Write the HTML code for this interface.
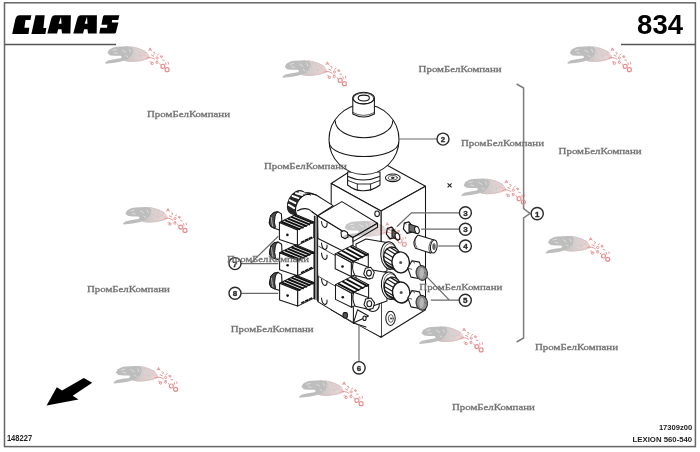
<!DOCTYPE html>
<html><head><meta charset="utf-8">
<style>
html,body{margin:0;padding:0;background:#fff;}
body{width:700px;height:452px;overflow:hidden;}
svg{display:block;filter:blur(0.6px);}
.wm{font-family:"Liberation Serif",serif;font-size:9.2px;fill:#707070;stroke:#707070;stroke-width:0.3px;font-weight:normal;}
.sm{font-family:"Liberation Sans",sans-serif;fill:#222;}
.co{fill:#fff;stroke:#2a2a2a;stroke-width:1.4;}
.cn{font-family:"Liberation Sans",sans-serif;font-size:8px;font-weight:bold;fill:#2a2a2a;stroke:#2a2a2a;stroke-width:0.35px;text-anchor:middle;}
.ld{fill:none;stroke:#6a6a6a;stroke-width:1.2;}
</style></head>
<body>
<svg width="700" height="452" viewBox="0 0 700 452">
<defs>
<linearGradient id="lg" x1="0" y1="0" x2="1" y2="0"><stop offset="0" stop-color="#bcbcbc"/><stop offset="0.45" stop-color="#d4cccc"/><stop offset="1" stop-color="#f0d0d0"/></linearGradient>
<symbol id="leo" overflow="visible">
<path d="M21,-17 C28,-17 34,-15.5 40,-12.5 C43,-10.5 45,-8 45,-5 C40,-3 34,-1.8 28,-1.5 C24,-1.4 21,-2 19,-2.8 Z" fill="url(#lg)" opacity="0.9"/>
<path d="M4,-13.7 C7,-15.5 9.5,-16.4 12,-16.6 L22.3,-17.1 L26.9,-16 L28.5,-12.5 L26.5,-8 L23,-4.5 L20,-2.9 L15,-1.6 L9.7,-0.6 L0.5,0.4 L0,-0.8 L2.9,-2.9 L9,-4.2 L15.4,-5.1 L16.8,-6.4 L15.4,-7.6 L10,-7.6 L5.1,-8 L2.3,-10.3 Z" fill="#bdbdbd"/>
<path d="M7.5,-13 L11.5,-14 M17,-13.5 L21,-11 M9,-10.8 L12.5,-10 M20.5,-8 L23,-6.5 M24,-14.5 L25.5,-11" stroke="#dedede" stroke-width="1" fill="none"/>
<g fill="none" stroke-width="0.9">
<path d="M25,-16.8 C31,-16.2 37,-14 42,-10.5" stroke="#d2c2c2"/>
<path d="M20,-2.5 C27,-1.6 34,-2.2 41,-4.5" stroke="#d8c0c0"/>
<path d="M27,-13 C29,-9 32,-7 36,-7.5 C39,-8 41,-10 40,-12.5" stroke="#d6c8c8"/>
<path d="M30,-15 C34,-13 36,-10 35,-5 M24,-6 C28,-5 31,-4 34,-2.5 M36,-12 C38,-9 41,-7 44,-7" stroke="#dcc6c6"/>
</g>
<g fill="none" stroke="#e58e8e" stroke-width="0.9">
<path d="M43.5,-12.5 L45,-15.5 L46.5,-12.5 M44,-13.5 L46,-13.5 M48,-11 C50,-12 50.5,-9.5 48.5,-9 M41,-5 C44,-6.5 47,-6 50,-4 M46,-8.5 L49,-7 M52,-8 L54,-9.5 M55,-7.5 L57,-6 M57,-3.5 L59.5,-3 M50.5,-2 L53,-2.5 M44.5,-1.5 C46,-2.5 47.5,-1 46,0.5 M60.5,-1 L61,1.5 M63,-1.5 L63.5,1 M54.5,0 L55.5,1.5"/>
<circle cx="52" cy="-5.5" r="1.1"/>
<circle cx="56.5" cy="-6.8" r="0.9"/>
<circle cx="47" cy="0" r="1.2"/>
<circle cx="52" cy="-0.8" r="1"/>
<circle cx="57.8" cy="3" r="2" stroke-width="1.2"/>
<circle cx="62" cy="6.3" r="2" stroke-width="1.2"/>
</g>
</symbol>
</defs>
<!-- frame -->
<rect x="4.5" y="2.8" width="690.9" height="443.8" fill="none" stroke="#666" stroke-width="1.5"/>
<line x1="4.6" y1="44.6" x2="116" y2="44.6" stroke="#555" stroke-width="1.5"/>
<line x1="621" y1="44.5" x2="695.4" y2="44.5" stroke="#555" stroke-width="1.5"/>
<!-- CLAAS logo -->
<g fill="#000">
<path d="M12.2,33.9 L15.3,19.5 Q16.3,15.2 19.5,15.2 L31.4,15.2 L30.4,20.1 L25.5,20.1 L24.4,27.7 L29.3,27.7 L28.5,33.9 Z"/>
<path d="M31.4,33.9 L35.5,15.2 L44.7,15.2 L43.4,28 L46.3,28 L45.4,33.9 Z"/>
<path d="M47.3,33.6 L51,19.5 Q52,15.3 55,15.3 L70.9,15.3 L70.4,33.6 L62,33.6 L61.5,29.3 L58.2,29.3 L57,33.6 Z M61,16.8 L61.5,23.7 L58.7,23.7 Z" fill-rule="evenodd"/>
<path d="M73.3,33.6 L77,19.5 Q78,15.3 81,15.3 L96.9,15.3 L96.7,33.6 L88,33.6 L87.5,29.3 L84.2,29.3 L83,33.6 Z M87,16.8 L87.5,23.7 L84.7,23.7 Z" fill-rule="evenodd"/>
<path d="M104.2,15.3 L119.4,15.3 L118.2,19.9 L112.1,19.9 L111.8,22.4 L118.4,22.4 L115.9,32.4 Q115.6,33.4 114.6,33.4 L99.3,33.4 L100.3,27.8 L107,27.8 L107.4,24.7 L101.4,24.7 L102.9,17 Q103.3,15.3 104.2,15.3 Z"/>
</g>
<!-- 834 -->
<text x="683" y="34" text-anchor="end" style="font-family:'Liberation Sans',sans-serif;font-weight:bold;font-size:27.5px;fill:#000">834</text>
<!-- bottom texts -->
<text x="6.9" y="440.6" class="sm" style="font-size:8.3px;font-weight:bold" textLength="25.2" lengthAdjust="spacingAndGlyphs">148227</text>
<text x="658.9" y="429.9" class="sm" style="font-size:7.3px;font-weight:bold" textLength="33.3" lengthAdjust="spacingAndGlyphs">17309z00</text>
<text x="632.6" y="441.9" class="sm" style="font-size:8.1px;font-weight:bold" textLength="59.6" lengthAdjust="spacingAndGlyphs">LEXION 560-540</text>
<!-- arrow -->
<path d="M46.6,405.4 L56.8,387.3 L62.1,390.4 L83.8,378 L92.2,382.8 L72.7,395.7 L78.5,399.6 Z" fill="#000"/>
<!-- bracket -->
<path d="M516.6,84 L523.6,88 L523.6,208.6 L530,213.5 L523.6,218 L523.6,338 L516.6,342" fill="none" stroke="#7c7c7c" stroke-width="1.5"/>
<circle cx="537.2" cy="213.6" r="6.1" class="co"/>
<text x="537.2" y="216.5" class="cn">1</text>

<!-- DRAWING -->
<g id="drw" stroke="#161616" stroke-width="1.05" stroke-linejoin="round" stroke-linecap="round" fill="#fff">
<!-- main block -->
<path d="M331.2,183.5 L372,157 L425.5,186.2 L381,211 Z"/>
<path d="M381,211 L425.5,186.2 L425.5,309.7 L381,337.2 Z"/>
<path d="M331.2,183.5 L381,211 L381,337.2 L331.2,309.7 Z"/>
<ellipse cx="392.8" cy="177.8" rx="7.4" ry="3.8"/>
<ellipse cx="392.8" cy="177.8" rx="4.5" ry="2.2" fill="none" stroke-width="0.7"/>
<ellipse cx="392.8" cy="177.9" rx="1.8" ry="1.1" fill="#333" stroke="none"/>
<ellipse cx="377.1" cy="213.8" rx="2.3" ry="2.8"/>
<ellipse cx="390.5" cy="318.3" rx="4.7" ry="7.1"/>
<ellipse cx="390.8" cy="318.5" rx="2.4" ry="3.8" fill="none" stroke-width="0.7"/>
<circle cx="391" cy="318.6" r="1" fill="#333" stroke="none"/>
<!-- nut under sphere -->
<path d="M347.6,172 L347.6,185 Q355,191 363,190.8 Q372,191 380,185 L380,172 Z"/>
<path d="M348,176.5 Q363,183.5 379.6,176.5" fill="none"/>
<path d="M348,180.5 L357.3,184 L370.6,184 L379.8,180.5 M357.3,184 L357.3,190.3 M370.6,184 L370.6,190.3" fill="none" stroke-width="0.9"/>
<!-- sphere -->
<circle cx="364" cy="139.5" r="35"/>
<path d="M335.2,120.8 A28.6,16.8 0 0 0 392.8,120.8" fill="none"/>
<path d="M329.3,142.5 A34.7,14 0 0 0 398.7,142.5" fill="none"/>
<!-- cap -->
<path d="M352.8,98 L352.8,114 Q363.6,120 374.4,114 L374.4,98 Z"/>
<path d="M352.8,112.5 Q363.6,118.5 374.4,112.5" fill="none" stroke-width="0.7"/>
<ellipse cx="363.6" cy="98.1" rx="10.8" ry="5.8"/>
<ellipse cx="363.6" cy="98.6" rx="10.2" ry="5.5" fill="none" stroke-width="0.6"/>
<ellipse cx="363.8" cy="98" rx="5.6" ry="2.9"/>
<!--STACK-->
<path d="M297.0,209.0 L317.6,215.8 L341.9,201.6 L377.5,223.3 L379.0,240.0 L381.0,250.0 L381.0,336.0 L356.0,323.5 L318.0,302.0 L297.0,300.0 Z" fill="#fff" stroke="none"/>
<path d="M318.2,276.0 L318.2,301.9 L353.4,323.1 L366.0,327.0" fill="none" />
<path d="M321.5,279 Q322,285 325,285.5 Q327.5,285 327,281" fill="none"/>
<path d="M321.5,298 Q322,304 325,304.5 Q327.5,304 327,300" fill="none"/>
<path d="M314.4,216.0 L317.6,216.0 L317.6,301.0 L314.4,299.0 Z" fill="#8a8a8a" stroke="none"/>
<path d="M314.4,216.0 L314.4,299.0" fill="none" />
<path d="M317.6,216.0 L317.6,301.0" fill="none" />
<path d="M318.6,246.2 L336.0,256.0" fill="none" stroke-width="0.8"/>
<path d="M318.6,276.5 L336.0,286.5" fill="none" stroke-width="0.8"/>
<path d="M353.4,307.4 L353.4,323.1" fill="none" />
<path d="M353.4,323.1 L357.5,309.8 L368.5,316.0 Z" />
<ellipse cx="364.5" cy="318.2" rx="1.6" ry="2.3" fill="#fff"/>
<rect x="343" y="312.6" width="4.4" height="5.4" rx="1.6" fill="#555"/>
<circle cx="372.8" cy="305" r="6.5"/>
<path d="M321.5,243 Q322,249 325,249.5 Q327.5,249 327,245" fill="none"/>
<path d="M321.5,253 Q322,259 325,259.5 Q327.5,259 327,255" fill="none"/>
<path d="M317.6,215.8 L353.0,237.5 L353.0,256.0 L318.0,238.5 Z" />
<path d="M317.6,215.8 L341.9,201.6 L377.5,223.3 L353.0,237.5 Z" />
<path d="M353.0,237.5 L377.5,223.3 L377.5,227.3 L353.0,241.6 Z" />
<path d="M321.5,221.5 Q322,227 325,227.5 Q327.5,227 327,223" fill="none"/>
<path d="M341,232 L344,230.5 L347.5,232.5 L348,237 L345,238.8 L341.5,236.8 Z"/>
<path d="M356.0,244.0 L366.0,239.0 L387.0,242.5 L387.0,271.0 L370.0,277.0 L356.0,270.0 Z" />
<path d="M356.0,274.0 L366.0,269.0 L387.0,272.5 L387.0,301.0 L370.0,307.0 L356.0,300.0 Z" />
<path d="M300,197 Q303,192.5 309,193 L316.2,195 L333.1,205.6 L317.6,215.8 L309.2,209.6 Q303.5,207.2 296.5,212.5 Z"/>
<ellipse cx="297" cy="202.5" rx="8.6" ry="12.6" fill="#262626" stroke="#1e1e1e" transform="rotate(28 297 202.5)"/><path d="M292.6,196.0 L298.6,198.1" stroke="#fff" stroke-width="2" fill="none"/><path d="M296.0,193.3 L302.4,195.0" stroke="#fff" stroke-width="2" fill="none"/><path d="M299.5,192.3 L306.4,194.0" stroke="#fff" stroke-width="2" fill="none"/><path d="M289.8,200.4 L295.5,203.1" stroke="#fff" stroke-width="2" fill="none"/><path d="M288.8,204.8 L294.2,208.1" stroke="#fff" stroke-width="2" fill="none"/><ellipse cx="305.2" cy="206.2" rx="8.6" ry="12.6" fill="#fff" stroke="none" transform="rotate(28 305.2 206.2)"/><path d="M296.6,214.6 L296.1,213.3 L295.8,211.9 L295.6,210.5 L295.6,208.9 L295.8,207.2 L296.2,205.6 L296.8,204.0 L297.5,202.4 L298.4,200.8 L299.4,199.4 L300.5,198.1 L301.7,197.0 L303.0,196.1 L304.3,195.3 L305.7,194.8 L307.0,194.5 L308.3,194.4 L309.6,194.5 L310.7,194.9" fill="none" /><path d="M297.5,210.8 Q303.5,207.2 309.2,209.6 L317.6,215.8 M305,192.9 Q310.5,192.6 316.2,195" fill="none"/>
<path d="M269.3,222.7 L270.6,215.8 L273.9,212.5 L277.9,211.7 L281.4,213.9 L281.9,222.9 L279.6,229.9 L274.9,228.4 L270.9,226.4 Z" stroke-width="1.1"/>
<path d="M269.3,222.7 L270.6,215.8 L273.9,212.5 L277.9,211.7 L275.8,214.1 L275.0,216.7 L274.4,222.2 L275.4,227.0 L274.9,228.4 L270.9,226.4 Z" fill="#4a4a4a" stroke-width="1"/>
<path d="M271.2,217.4 L272.2,223.9 L272.8,226.3" fill="none" stroke="#bbb" stroke-width="0.9"/>
<path d="M297.4,229.9 L313.8,221.9 L313.8,237.4 L297.4,245.4 Z" />
<path d="M301.5,242.2 L311.3,237.4" fill="none" stroke="#111" stroke-width="1.6" stroke-dasharray="2.5 1.8"/>
<path d="M279.4,222.5 L297.4,229.9 L313.8,221.9 L295.8,214.5 Z" />
<path d="M282.0,222.0 L299.5,229.2" fill="none" stroke="#111" stroke-width="1.9"/>
<path d="M285.3,220.4 L302.8,227.6" fill="none" stroke="#111" stroke-width="1.9"/>
<path d="M288.6,218.8 L306.1,226.0" fill="none" stroke="#111" stroke-width="1.9"/>
<path d="M291.8,217.2 L309.3,224.4" fill="none" stroke="#111" stroke-width="1.9"/>
<path d="M295.1,215.6 L312.6,222.8" fill="none" stroke="#111" stroke-width="1.9"/>
<path d="M279.4,222.5 L297.4,229.9 L297.4,245.4 L279.4,239.4 Z" />
<circle cx="287.4" cy="234.9" r="1.3" fill="#111" stroke="none"/>
<path d="M269.5,253.0 L270.8,246.1 L274.1,242.8 L278.1,242.0 L281.6,244.2 L282.1,253.2 L279.8,260.2 L275.1,258.7 L271.1,256.7 Z" stroke-width="1.1"/>
<path d="M269.5,253.0 L270.8,246.1 L274.1,242.8 L278.1,242.0 L276.0,244.4 L275.2,247.0 L274.6,252.5 L275.6,257.3 L275.1,258.7 L271.1,256.7 Z" fill="#4a4a4a" stroke-width="1"/>
<path d="M271.4,247.7 L272.4,254.2 L273.0,256.6" fill="none" stroke="#bbb" stroke-width="0.9"/>
<path d="M297.6,260.2 L314.0,252.2 L314.0,267.7 L297.6,275.7 Z" />
<path d="M301.7,272.5 L311.5,267.7" fill="none" stroke="#111" stroke-width="1.6" stroke-dasharray="2.5 1.8"/>
<path d="M279.6,252.8 L297.6,260.2 L314.0,252.2 L296.0,244.8 Z" />
<path d="M282.2,252.3 L299.7,259.5" fill="none" stroke="#111" stroke-width="1.9"/>
<path d="M285.5,250.7 L303.0,257.9" fill="none" stroke="#111" stroke-width="1.9"/>
<path d="M288.8,249.1 L306.3,256.3" fill="none" stroke="#111" stroke-width="1.9"/>
<path d="M292.0,247.5 L309.5,254.7" fill="none" stroke="#111" stroke-width="1.9"/>
<path d="M295.3,245.9 L312.8,253.1" fill="none" stroke="#111" stroke-width="1.9"/>
<path d="M279.6,252.8 L297.6,260.2 L297.6,275.7 L279.6,269.7 Z" />
<circle cx="287.6" cy="265.2" r="1.3" fill="#111" stroke="none"/>
<path d="M269.5,283.4 L270.8,276.5 L274.1,273.2 L278.1,272.4 L281.6,274.6 L282.1,283.6 L279.8,290.6 L275.1,289.1 L271.1,287.1 Z" stroke-width="1.1"/>
<path d="M269.5,283.4 L270.8,276.5 L274.1,273.2 L278.1,272.4 L276.0,274.8 L275.2,277.4 L274.6,282.9 L275.6,287.7 L275.1,289.1 L271.1,287.1 Z" fill="#4a4a4a" stroke-width="1"/>
<path d="M271.4,278.1 L272.4,284.6 L273.0,287.0" fill="none" stroke="#bbb" stroke-width="0.9"/>
<path d="M297.6,290.6 L314.0,282.6 L314.0,298.1 L297.6,306.1 Z" />
<path d="M301.7,302.9 L311.5,298.1" fill="none" stroke="#111" stroke-width="1.6" stroke-dasharray="2.5 1.8"/>
<path d="M279.6,283.2 L297.6,290.6 L314.0,282.6 L296.0,275.2 Z" />
<path d="M282.2,282.7 L299.7,289.9" fill="none" stroke="#111" stroke-width="1.9"/>
<path d="M285.5,281.1 L303.0,288.3" fill="none" stroke="#111" stroke-width="1.9"/>
<path d="M288.8,279.5 L306.3,286.7" fill="none" stroke="#111" stroke-width="1.9"/>
<path d="M292.0,277.9 L309.5,285.1" fill="none" stroke="#111" stroke-width="1.9"/>
<path d="M295.3,276.3 L312.8,283.5" fill="none" stroke="#111" stroke-width="1.9"/>
<path d="M279.6,283.2 L297.6,290.6 L297.6,306.1 L279.6,300.1 Z" />
<circle cx="287.6" cy="295.6" r="1.3" fill="#111" stroke="none"/>
<path d="M351.3,262.5 L368.3,254.0 L368.3,268.0 L351.3,276.5 Z" />
<path d="M355.6,273.2 L365.8,268.1" fill="none" stroke="#111" stroke-width="1.6" stroke-dasharray="2.5 1.8"/>
<path d="M335.2,253.9 L351.3,262.5 L368.3,254.0 L352.2,245.4 Z" />
<path d="M338.3,253.1 L353.9,261.5" fill="none" stroke="#111" stroke-width="1.9"/>
<path d="M342.6,251.0 L358.2,259.4" fill="none" stroke="#111" stroke-width="1.9"/>
<path d="M346.8,248.9 L362.4,257.3" fill="none" stroke="#111" stroke-width="1.9"/>
<path d="M351.1,246.8 L366.7,255.2" fill="none" stroke="#111" stroke-width="1.9"/>
<path d="M335.2,253.9 L351.3,262.5 L351.3,276.5 L335.2,268.7 Z" />
<circle cx="342.5" cy="266.5" r="1.3" fill="#111" stroke="none"/>
<path d="M353.5,261.5 L368.0,266.9 L370.0,279.1 L355.0,275.5 Q351.0,268.5 353.5,261.5 Z"/>
<path d="M374.3,272.2 L372.6,277.9 L367.3,278.9 L363.7,274.0 L365.4,268.3 L370.7,267.3 Z" />
<ellipse cx="369.0" cy="273.1" rx="2.4" ry="3" />
<path d="M351.6,293.2 L368.6,284.7 L368.6,298.7 L351.6,307.2 Z" />
<path d="M355.9,303.9 L366.1,298.8" fill="none" stroke="#111" stroke-width="1.6" stroke-dasharray="2.5 1.8"/>
<path d="M335.5,284.6 L351.6,293.2 L368.6,284.7 L352.5,276.1 Z" />
<path d="M338.6,283.8 L354.2,292.2" fill="none" stroke="#111" stroke-width="1.9"/>
<path d="M342.9,281.7 L358.5,290.1" fill="none" stroke="#111" stroke-width="1.9"/>
<path d="M347.1,279.6 L362.7,288.0" fill="none" stroke="#111" stroke-width="1.9"/>
<path d="M351.4,277.5 L367.0,285.9" fill="none" stroke="#111" stroke-width="1.9"/>
<path d="M335.5,284.6 L351.6,293.2 L351.6,307.2 L335.5,299.4 Z" />
<circle cx="342.8" cy="297.2" r="1.3" fill="#111" stroke="none"/>
<path d="M353.8,292.2 L368.3,297.6 L370.3,309.8 L355.3,306.2 Q351.3,299.2 353.8,292.2 Z"/>
<path d="M374.6,302.9 L372.9,308.6 L367.6,309.6 L364.0,304.7 L365.7,299.0 L371.0,298.0 Z" />
<ellipse cx="369.3" cy="303.8" rx="2.4" ry="3" />
<ellipse cx="389.5" cy="255.6" rx="8.6" ry="13.8" transform="rotate(-6 389.5 255.6)"/>
<ellipse cx="390.7" cy="256.2" rx="7.6" ry="12.6" fill="none" stroke-width="0.6" transform="rotate(-6 389.5 255.6)"/>
<ellipse cx="392.1" cy="257.2" rx="8.4" ry="10.2" fill="#fff" stroke-width="1.3" transform="rotate(-6 392.1 257.2)"/>
<path d="M389.9,247.3 L398.5,252.5 L400.6,272.6 L392.0,267.4 Z" fill="#fff" stroke="none"/>
<path d="M389.9,247.3 L398.5,252.5" fill="none" stroke-width="1.3"/>
<path d="M392.0,267.4 L400.6,272.6" fill="none" stroke-width="1.3"/>
<path d="M389.1,266.6 L397.7,271.8" fill="none" stroke="#1a1a1a" stroke-width="1.2"/>
<path d="M386.2,264.1 L394.8,269.3" fill="none" stroke="#1a1a1a" stroke-width="1.2"/>
<path d="M384.3,260.5 L392.9,265.7" fill="none" stroke="#1a1a1a" stroke-width="1.2"/>
<path d="M383.7,256.3 L392.3,261.5" fill="none" stroke="#1a1a1a" stroke-width="1.2"/>
<path d="M384.6,252.3 L393.2,257.5" fill="none" stroke="#1a1a1a" stroke-width="1.2"/>
<path d="M386.8,249.1 L395.4,254.3" fill="none" stroke="#1a1a1a" stroke-width="1.2"/>
<ellipse cx="400.7" cy="262.4" rx="8.700000000000001" ry="10.5" fill="#fff" stroke-width="1.4" transform="rotate(-6 400.7 262.4)"/>
<circle cx="400.7" cy="262.4" r="1.5" fill="#555" stroke="none"/>
<ellipse cx="390.0" cy="285.7" rx="8.6" ry="13.8" transform="rotate(-6 390.0 285.7)"/>
<ellipse cx="391.2" cy="286.3" rx="7.6" ry="12.6" fill="none" stroke-width="0.6" transform="rotate(-6 390.0 285.7)"/>
<ellipse cx="392.6" cy="287.3" rx="8.4" ry="10.2" fill="#fff" stroke-width="1.3" transform="rotate(-6 392.6 287.3)"/>
<path d="M390.4,277.4 L399.0,282.6 L401.1,302.7 L392.5,297.5 Z" fill="#fff" stroke="none"/>
<path d="M390.4,277.4 L399.0,282.6" fill="none" stroke-width="1.3"/>
<path d="M392.5,297.5 L401.1,302.7" fill="none" stroke-width="1.3"/>
<path d="M389.6,296.7 L398.2,301.9" fill="none" stroke="#1a1a1a" stroke-width="1.2"/>
<path d="M386.7,294.2 L395.3,299.4" fill="none" stroke="#1a1a1a" stroke-width="1.2"/>
<path d="M384.8,290.6 L393.4,295.8" fill="none" stroke="#1a1a1a" stroke-width="1.2"/>
<path d="M384.2,286.4 L392.8,291.6" fill="none" stroke="#1a1a1a" stroke-width="1.2"/>
<path d="M385.1,282.4 L393.7,287.6" fill="none" stroke="#1a1a1a" stroke-width="1.2"/>
<path d="M387.3,279.2 L395.9,284.4" fill="none" stroke="#1a1a1a" stroke-width="1.2"/>
<ellipse cx="401.2" cy="292.5" rx="8.700000000000001" ry="10.5" fill="#fff" stroke-width="1.4" transform="rotate(-6 401.2 292.5)"/>
<circle cx="401.2" cy="292.5" r="1.5" fill="#555" stroke="none"/>
<path d="M395.6,231.8 L394.7,237.6 L390.1,238.8 L386.4,234.2 L387.3,228.4 L391.9,227.2 Z" fill="#fff" stroke-width="1.2"/>
<path d="M390.1,238.8 L391.4,237.6" fill="none" stroke-width="0.7"/>
<path d="M387.3,228.4 L389.1,229.3" fill="none" stroke-width="0.7"/>
<path d="M392.0,229.4 L397.5,232.9 L397.5,240.1 L392.0,236.6 Z" fill="#6a6a6a"/>
<ellipse cx="397.5" cy="236.5" rx="2.2" ry="3.6" fill="#fff" transform="rotate(-15 397.5 236.5)"/>
<path d="M412.6,226.4 L411.7,232.2 L407.1,233.4 L403.4,228.8 L404.3,223.0 L408.9,221.8 Z" fill="#fff" stroke-width="1.2"/>
<path d="M407.1,233.4 L408.4,232.2" fill="none" stroke-width="0.7"/>
<path d="M404.3,223.0 L406.1,223.9" fill="none" stroke-width="0.7"/>
<path d="M409.0,224.0 L417.0,226.4 L417.0,233.6 L409.0,231.2 Z" fill="#6a6a6a"/>
<ellipse cx="417" cy="230" rx="2.2" ry="3.6" fill="#fff" transform="rotate(-15 417 230)"/>
<path d="M417.8,235.1 L434.1,240.1 L431,253.2 L415.5,248.3 Q411.5,241.5 417.8,235.1 Z"/>
<path d="M416.5,236.5 Q413.2,242 416.8,247.5" fill="none" stroke-width="0.7"/>
<path d="M431.5,240.5 Q427.5,246 429.5,252.2" fill="none" stroke-width="0.7"/>
<ellipse cx="433.8" cy="246.5" rx="3.3" ry="6.6" transform="rotate(8 433.8 246.5)"/>
<ellipse cx="434" cy="246.6" rx="1.7" ry="3.4" fill="#666" stroke="none"/>
<path d="M422.6,271.1 L418.4,278.5 L411.0,277.1 L407.8,268.1 L412.0,260.7 L419.4,262.1 Z" stroke-width="1.1"/>
<path d="M418.4,278.5 L419.7,278.1" fill="none" stroke-width="0.7"/>
<path d="M407.8,268.1 L411.7,269.3" fill="none" stroke-width="0.7"/>
<path d="M412.0,260.7 L414.7,263.1" fill="none" stroke-width="0.7"/>
<ellipse cx="421.8" cy="273.0" rx="5.6" ry="7.4" fill="#b8b8b8" stroke-width="1.1" transform="rotate(-8 421.8 273.0)"/>
<ellipse cx="420.3" cy="272.6" rx="4.2" ry="6.6" fill="none" stroke="#666" stroke-width="0.5"/>
<ellipse cx="421.2" cy="273.0" rx="4.2" ry="6.6" fill="none" stroke="#666" stroke-width="0.5"/>
<ellipse cx="422.1" cy="273.4" rx="4.2" ry="6.6" fill="none" stroke="#666" stroke-width="0.5"/>
<ellipse cx="423.0" cy="273.8" rx="4.2" ry="6.6" fill="none" stroke="#666" stroke-width="0.5"/>
<path d="M422.6,300.9 L418.4,308.3 L411.0,306.9 L407.8,297.9 L412.0,290.5 L419.4,291.9 Z" stroke-width="1.1"/>
<path d="M418.4,308.3 L419.7,307.9" fill="none" stroke-width="0.7"/>
<path d="M407.8,297.9 L411.7,299.1" fill="none" stroke-width="0.7"/>
<path d="M412.0,290.5 L414.7,292.9" fill="none" stroke-width="0.7"/>
<ellipse cx="421.8" cy="302.8" rx="5.6" ry="7.4" fill="#b8b8b8" stroke-width="1.1" transform="rotate(-8 421.8 302.8)"/>
<ellipse cx="420.3" cy="302.4" rx="4.2" ry="6.6" fill="none" stroke="#666" stroke-width="0.5"/>
<ellipse cx="421.2" cy="302.8" rx="4.2" ry="6.6" fill="none" stroke="#666" stroke-width="0.5"/>
<ellipse cx="422.1" cy="303.2" rx="4.2" ry="6.6" fill="none" stroke="#666" stroke-width="0.5"/>
<ellipse cx="423.0" cy="303.6" rx="4.2" ry="6.6" fill="none" stroke="#666" stroke-width="0.5"/>
<!--/STACK-->
</g>
<!-- callouts -->
<g class="ld">
<path d="M398.4,139 L437,139"/>
<path d="M459.3,212.8 L411.4,212.8 L396.8,226.8"/>
<path d="M459.3,229.2 L421.2,229.2"/>
<path d="M459.3,246 L438.2,246"/>
<path d="M459.2,300.2 L449.4,300.2 L426.4,276.3 M449.4,300.2 L430.8,300.2"/>
<path d="M359,324.6 L359,361.5"/>
<path d="M241,263.6 L278.3,263.6 M250.9,263 L278.3,236.2"/>
<path d="M241.2,293.3 L278.3,293.3"/>
</g>
<g>
<circle cx="443" cy="139.1" r="6" class="co"/><text x="443" y="142" class="cn">2</text>
<circle cx="465.4" cy="212.8" r="6" class="co"/><text x="465.4" y="215.7" class="cn">3</text>
<circle cx="465.4" cy="229.2" r="6" class="co"/><text x="465.4" y="232.1" class="cn">3</text>
<circle cx="465.4" cy="246" r="6" class="co"/><text x="465.4" y="248.9" class="cn">4</text>
<circle cx="465.3" cy="300.2" r="6" class="co"/><text x="465.3" y="303.1" class="cn">5</text>
<circle cx="359" cy="367.8" r="6.2" class="co"/><text x="359" y="370.7" class="cn">6</text>
<circle cx="235" cy="263.6" r="6" class="co"/><text x="235" y="266.5" class="cn">7</text>
<circle cx="235" cy="293.3" r="6" class="co"/><text x="235" y="296.2" class="cn">8</text>
<path d="M447.6,183.3 L451.6,187.3 M451.6,183.3 L447.6,187.3" stroke="#222" stroke-width="1.1"/>
</g>
<!-- leopards -->
<use href="#leo" x="105.1" y="63.4"/>
<use href="#leo" x="567.4" y="63.4"/>
<use href="#leo" x="282.4" y="77.4"/>
<use href="#leo" x="123" y="224.1"/>
<use href="#leo" x="461.3" y="195.7"/>
<use href="#leo" x="545.7" y="253"/>
<use href="#leo" x="419.1" y="343.6"/>
<use href="#leo" x="113.6" y="383"/>
<use href="#leo" x="299.1" y="397.4"/>
<use href="#leo" x="342.3" y="238" style="mix-blend-mode:multiply" opacity="0.85"/>
<!-- watermark texts -->
<g class="wm">
<text x="147" y="117.4" textLength="83" lengthAdjust="spacingAndGlyphs">ПромБелКомпани</text>
<text x="418.6" y="72.1" textLength="83" lengthAdjust="spacingAndGlyphs">ПромБелКомпани</text>
<text x="263.9" y="168.6" textLength="83" lengthAdjust="spacingAndGlyphs">ПромБелКомпани</text>
<text x="461" y="146.1" textLength="83" lengthAdjust="spacingAndGlyphs">ПромБелКомпани</text>
<text x="558.6" y="154.1" textLength="83" lengthAdjust="spacingAndGlyphs">ПромБелКомпани</text>
<text x="86.9" y="291.7" textLength="83" lengthAdjust="spacingAndGlyphs">ПромБелКомпани</text>
<text x="419.3" y="290.1" textLength="83" lengthAdjust="spacingAndGlyphs">ПромБелКомпани</text>
<text x="230.7" y="332.3" textLength="83" lengthAdjust="spacingAndGlyphs">ПромБелКомпани</text>
<text x="535" y="349.7" textLength="83" lengthAdjust="spacingAndGlyphs">ПромБелКомпани</text>
<text x="451.9" y="410.1" textLength="83" lengthAdjust="spacingAndGlyphs">ПромБелКомпани</text>
<text x="227.1" y="262.1" textLength="82" lengthAdjust="spacingAndGlyphs">ПромБелКомпани</text>
</g>
</svg>
</body></html>
